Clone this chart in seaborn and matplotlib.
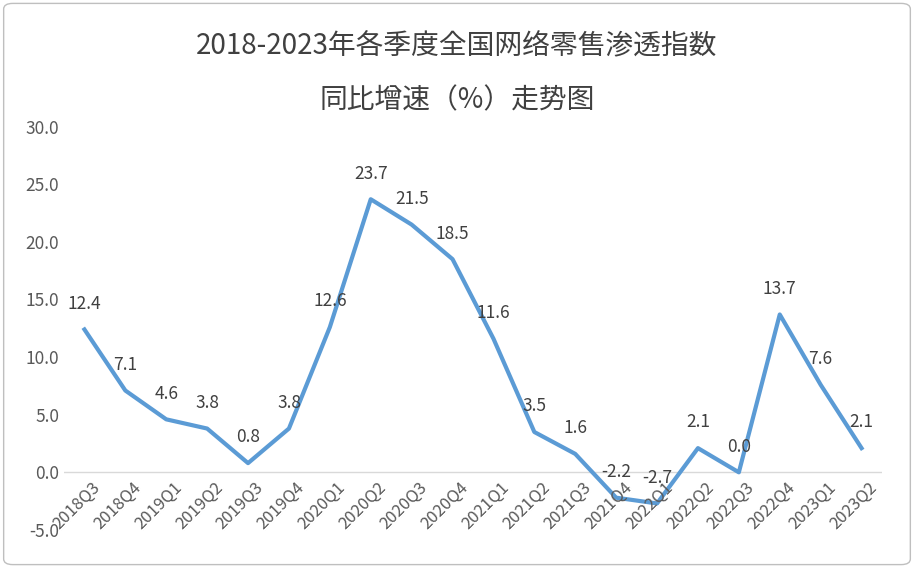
import matplotlib
matplotlib.use("Agg")
import matplotlib.pyplot as plt
from matplotlib import font_manager
import seaborn as sns
import pandas as pd

names = {f.name for f in font_manager.fontManager.ttflist}
cjk = [n for n in ["Noto Sans CJK SC", "Noto Sans CJK JP", "Noto Sans CJK TC",
                   "Noto Sans CJK KR", "Noto Sans SC"] if n in names]
plt.rcParams["font.family"] = cjk + ["DejaVu Sans"]

quarters = ["2018Q3", "2018Q4", "2019Q1", "2019Q2", "2019Q3", "2019Q4",
            "2020Q1", "2020Q2", "2020Q3", "2020Q4", "2021Q1", "2021Q2",
            "2021Q3", "2021Q4", "2022Q1", "2022Q2", "2022Q3", "2022Q4",
            "2023Q1", "2023Q2"]
growth = [12.4, 7.1, 4.6, 3.8, 0.8, 3.8, 12.6, 23.7, 21.5, 18.5, 11.6, 3.5,
          1.6, -2.2, -2.7, 2.1, 0.0, 13.7, 7.6, 2.1]
yticks = [-5, 0, 5, 10, 15, 20, 25, 30]

df = pd.DataFrame({"q": range(len(quarters)), "v": growth})

fig = plt.figure(figsize=(9.14, 5.68), dpi=100)
ax = fig.add_axes([0.07, 0.067, 0.895, 0.71])
sns.lineplot(data=df, x="q", y="v", ax=ax, color="#5B9BD5", linewidth=3)

for i, v in enumerate(growth):
    ax.annotate(f"{v:.1f}", (i, v), xytext=(0, 12), textcoords="offset points",
                ha="center", va="bottom", fontsize=12.5, color="#404040")

# category labels sit on the zero line, like the original
for i, q in enumerate(quarters):
    ax.annotate(q, (i, 0), xytext=(5, -5), textcoords="offset points",
                rotation=45, ha="right", va="top", rotation_mode="anchor",
                fontsize=12, color="#595959")

ax.set_ylim(-5, 30)
ax.set_yticks(yticks)
ax.set_yticklabels([f"{t:.1f}" for t in yticks], fontsize=12.5, color="#595959")
ax.set_xlim(-0.5, len(quarters) - 0.5)
ax.set_xticks([])
ax.set_xlabel("")
ax.set_ylabel("")
ax.tick_params(length=0)
for s in ax.spines.values():
    s.set_visible(False)
ax.axhline(0, color="#D9D9D9", linewidth=1, zorder=0)

fig.text(0.5, 0.905, "2018-2023年各季度全国网络零售渗透指数", ha="center",
         fontsize=20, color="#404040")
fig.text(0.5, 0.81, "同比增速（%）走势图", ha="center", fontsize=20, color="#404040")

fig.patches.append(matplotlib.patches.FancyBboxPatch(
    (0.004, 0.006), 0.992, 0.988, boxstyle="round,pad=0,rounding_size=0.01",
    transform=fig.transFigure, fill=False, edgecolor="#BFBFBF", linewidth=1))

fig.savefig("out.png", dpi=100)
